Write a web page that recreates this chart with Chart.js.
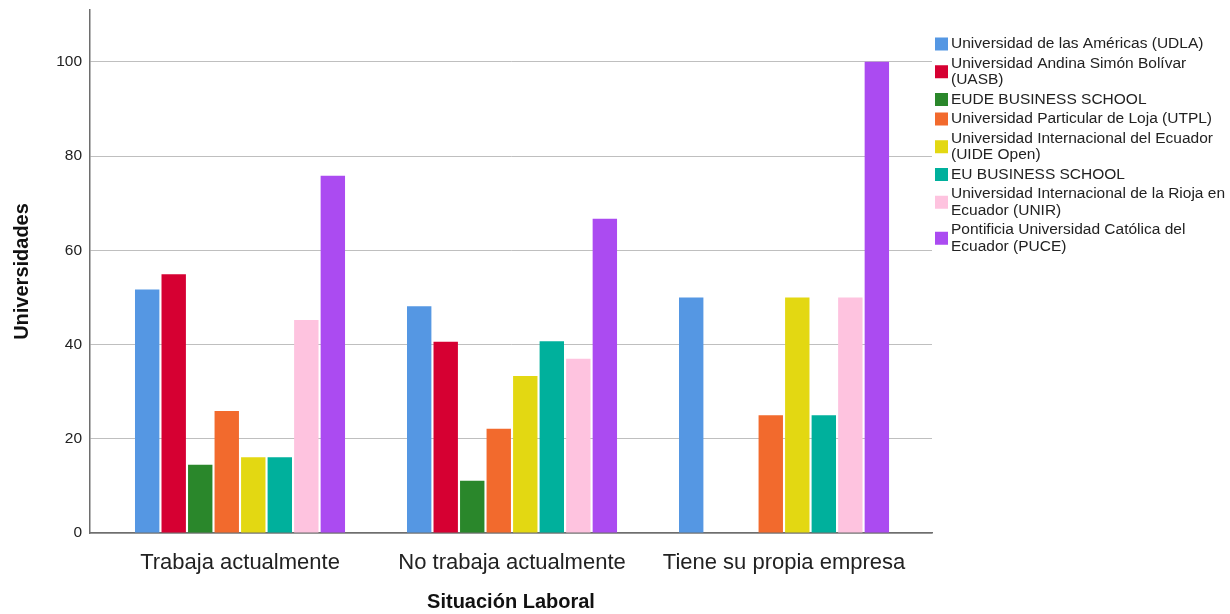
<!DOCTYPE html>
<html lang="es">
<head>
  <meta charset="UTF-8" />
  <title>Situación Laboral</title>
  <script src="https://cdn.jsdelivr.net/npm/chart.js"></script>
  <style>
    body { margin: 0; background: #fff; }
    #wrap { width: 1230px; height: 614px; position: relative; }
  </style>
</head>
<body>
  <div id="wrap"><canvas id="chart" width="1230" height="614"></canvas></div>

  <script>
    // Categories on the x axis
    const situaciones = ["Trabaja actualmente", "No trabaja actualmente", "Tiene su propia empresa"];

    // One array per university (values per situación)
    const udla = [51.7, 48.1, 50];
    const uasb = [54.9, 40.6, 0];
    const eude = [14.5, 11.1, 0];
    const utpl = [25.9, 22.1, 25];
    const uide = [16.1, 33.3, 50];
    const euBs = [16.1, 40.7, 25];
    const unir = [45.2, 37.0, 50];
    const puce = [75.8, 66.7, 100];

    // Legend labels (split in lines as in the picture)
    const universidades = [
      ["Universidad de las Américas (UDLA)"],
      ["Universidad Andina Simón Bolívar", "(UASB)"],
      ["EUDE BUSINESS SCHOOL"],
      ["Universidad Particular de Loja (UTPL)"],
      ["Universidad Internacional del Ecuador", "(UIDE Open)"],
      ["EU BUSINESS SCHOOL"],
      ["Universidad Internacional de la Rioja en", "Ecuador (UNIR)"],
      ["Pontificia Universidad Católica del", "Ecuador (PUCE)"]
    ];
    const colores = ["#5597e3", "#d60032", "#2a872b", "#f26a2d", "#e3d812", "#00b09c", "#fec3df", "#ab4bf1"];
    const series = [udla, uasb, eude, utpl, uide, euBs, unir, puce];

    const FONT = "'Liberation Sans', Arial, sans-serif";

    // Custom legend on the right (multi-line labels)
    const legendPlugin = {
      id: "sideLegend",
      afterDraw(chart) {
        const ctx = chart.ctx;
        ctx.save();
        ctx.font = "15.5px " + FONT;
        ctx.textBaseline = "middle";
        ctx.textAlign = "left";
        const lineH = 16.5;
        const gap = 19.5;
        let y = 44;
        universidades.forEach((lines, i) => {
          const first = y;
          lines.forEach((t, j) => {
            ctx.fillStyle = "#222";
            ctx.fillText(t, 951, y);
            if (j < lines.length - 1) y += lineH;
          });
          const mid = (first + y) / 2;
          ctx.fillStyle = colores[i];
          ctx.fillRect(935, mid - 6.5, 13, 13);
          y += gap;
        });
        ctx.restore();
      }
    };

    const ctx = document.getElementById("chart").getContext("2d");
    new Chart(ctx, {
      type: "bar",
      data: {
        datasets: series.map((vals, i) => ({
          label: universidades[i].join(" "),
          data: vals.map((v, k) => ({ x: k, y: v })),
          backgroundColor: colores[i],
          borderWidth: 0,
          barPercentage: 0.92,
          categoryPercentage: 0.78
        }))
      },
      options: {
        responsive: false,
        animation: false,
        layout: { padding: { top: 10, right: 298, left: 0, bottom: 0 } },
        plugins: {
          legend: { display: false },
          tooltip: { enabled: false }
        },
        scales: {
          x: {
            type: "linear",
            offset: false,
            min: -0.5515,
            max: 2.544,
            afterBuildTicks: (s) => { s.ticks = situaciones.map((_, i) => ({ value: i })); },
            afterFit: (s) => { s.height = 81; s.paddingLeft = 0; s.paddingRight = 0; },
            grid: { display: false, offset: false },
            border: { display: true, color: "#6e6e6e", width: 1.5 },
            ticks: {
              callback: (v) => situaciones[v],
              font: { family: FONT, size: 22 },
              color: "#222",
              padding: 9,
              maxRotation: 0,
              autoSkip: false
            },
            title: {
              display: true,
              text: "Situación Laboral",
              font: { family: FONT, size: 20, weight: "bold" },
              color: "#111",
              padding: { top: 0, bottom: 0 }
            }
          },
          y: {
            min: 0,
            max: 111,
            afterBuildTicks: (s) => { s.ticks = s.ticks.filter(t => t.value % 20 === 0 && t.value <= 100); },
            afterFit: (s) => { s.width = 90; s.paddingTop = 0; s.paddingBottom = 0; },
            grid: { color: "#bfbfbf", lineWidth: 1, drawTicks: false },
            border: { display: true, color: "#6e6e6e", width: 1.5 },
            ticks: {
              stepSize: 20,
              font: { family: FONT, size: 15.5 },
              color: "#222",
              padding: 8
            },
            title: {
              display: true,
              text: "Universidades",
              font: { family: FONT, size: 20, weight: "bold" },
              color: "#111",
              padding: { top: 10, bottom: 0 }
            }
          }
        }
      },
      plugins: [legendPlugin]
    });
  </script>
</body>
</html>
